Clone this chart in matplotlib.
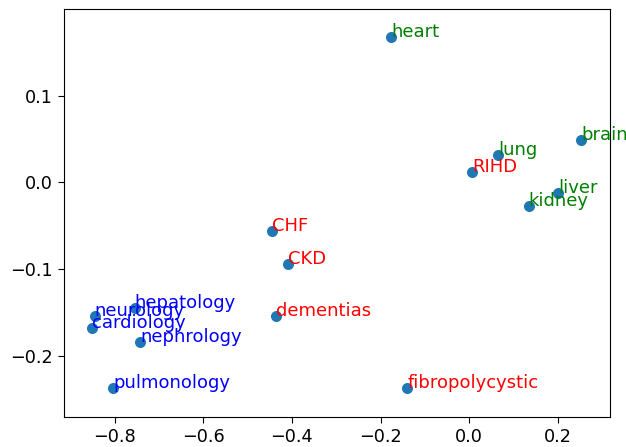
import matplotlib
matplotlib.use('Agg')
import matplotlib.pyplot as plt

# 2D embedding of terms
words = ['heart', 'brain', 'lung', 'RIHD', 'liver', 'kidney',
         'CHF', 'CKD', 'dementias', 'fibropolycystic',
         'hepatology', 'neurology', 'cardiology', 'nephrology', 'pulmonology']
xs = [-0.176, 0.252, 0.065, 0.006, 0.200, 0.134,
      -0.446, -0.408, -0.436, -0.140,
      -0.755, -0.845, -0.852, -0.742, -0.803]
ys = [0.168, 0.049, 0.032, 0.012, -0.012, -0.027,
      -0.0565, -0.094, -0.154, -0.237,
      -0.145, -0.154, -0.168, -0.184, -0.237]
groups = ['organ', 'organ', 'organ', 'disease', 'organ', 'organ',
          'disease', 'disease', 'disease', 'disease',
          'field', 'field', 'field', 'field', 'field']
group_colors = {'organ': 'green', 'disease': 'red', 'field': 'blue'}

fig = plt.figure(figsize=(6.26, 4.47), dpi=100)
ax = fig.add_axes([0.102, 0.068, 0.872, 0.911])
ax.scatter(xs, ys, s=48, color='#1f77b4', zorder=2)
for w, x, y, g in zip(words, xs, ys, groups):
    ax.annotate(w, (x, y), color=group_colors[g], fontsize=13,
                annotation_clip=False, zorder=3)

ax.set_xlim(-0.9145, 0.317)
ax.set_ylim(-0.270, 0.1996)
ax.set_xticks([-0.8, -0.6, -0.4, -0.2, 0.0, 0.2])
ax.set_yticks([-0.2, -0.1, 0.0, 0.1])
ax.tick_params(labelsize=12.7, length=4.4)

plt.savefig('out.png', dpi=100)
